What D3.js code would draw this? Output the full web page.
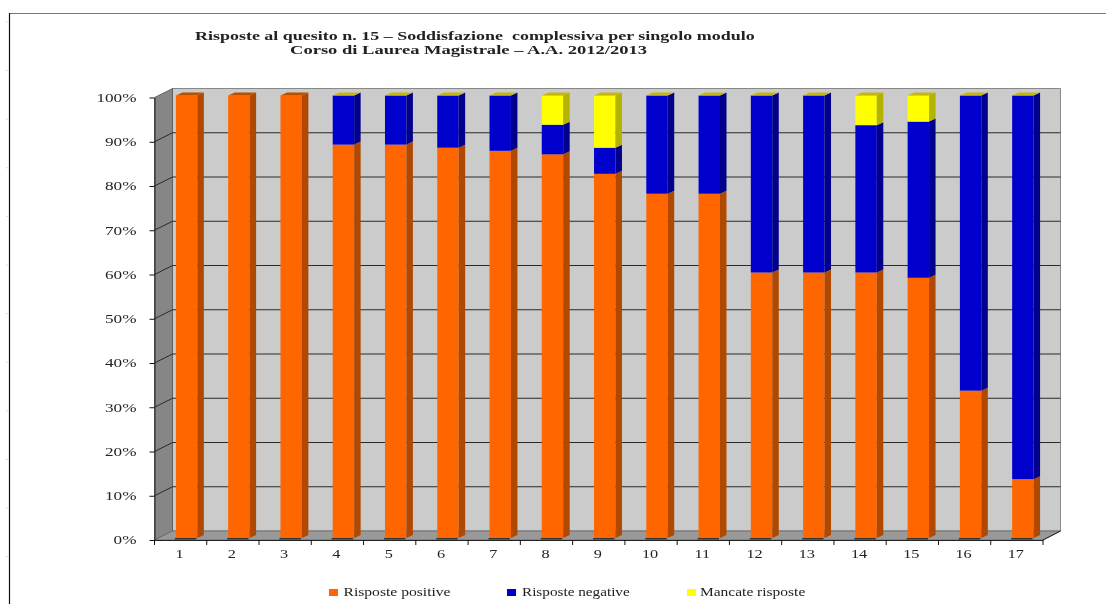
<!DOCTYPE html>
<html><head><meta charset="utf-8">
<script src="https://cdn.jsdelivr.net/npm/d3@7"></script>
<style>
html,body{margin:0;padding:0;background:#fff;overflow:hidden}
svg{display:block;filter:blur(0.5px)}
text{font-family:"Liberation Serif",serif;fill:#222}
</style></head><body>
<script>
const categories = ["1","2","3","4","5","6","7","8","9","10","11","12","13","14","15","16","17"];
const positive = [100,100,100,88.9,88.9,88.2,87.5,86.7,82.3,77.8,77.8,60,60,60,58.8,33.3,13.3];
const negative = [0,0,0,11.1,11.1,11.8,12.5,6.7,5.9,22.2,22.2,40,40,33.3,35.3,66.7,86.7];
const missing  = [0,0,0,0,0,0,0,6.6,11.8,0,0,0,0,6.7,5.9,0,0];
const seriesNames = ["Risposte positive","Risposte negative","Mancate risposte"];
const percentTicks = [0,10,20,30,40,50,60,70,80,90,100];
const titleLines = ["Risposte al quesito n. 15 – Soddisfazione  complessiva per singolo modulo","Corso di Laurea Magistrale – A.A. 2012/2013"];

const W=1106,H=604;
const svg=d3.select("body").append("svg").attr("width",W).attr("height",H);
const x=d3.scaleBand().domain(categories).range([154.5,1043]).paddingInner(0.59).paddingOuter(0.295);
const y=d3.scaleLinear().domain([0,100]).range([540,97.5]);
const dx=18,dy=-9;
const barShiftX=6,barShiftY=-2,bd=6.5,bdY=3;
const poly=p=>p.map(d=>d.join(",")).join(" ");
const X0=x.range()[0],X1=x.range()[1];
// widen text horizontally, as in the stretched scan
const stretch=(sel,f)=>sel.each(function(d,i){
  const len=this.getComputedTextLength();
  const k=typeof f==="function"?f(d,i):f;
  d3.select(this).attr("textLength",len*k).attr("lengthAdjust","spacingAndGlyphs");
});

// frame of the scanned page
svg.append("path").attr("d","M9.5,13.5H1106").attr("fill","none").attr("stroke","#777").attr("stroke-width",1);
svg.append("path").attr("d","M9.5,604V13").attr("fill","none").attr("stroke","#111").attr("stroke-width",1.2);
svg.append("g").selectAll("line").data(d3.range(12)).join("line")
  .attr("x1",6).attr("x2",9).attr("y1",d=>22+d*48.6).attr("y2",d=>22+d*48.6).attr("stroke","#ddd");

// title
const titleStart=[195,290], titleStretch=[1.382,1.426];
svg.append("g").selectAll("text").data(titleLines).join("text")
  .attr("x",(d,i)=>titleStart[i]).attr("y",(d,i)=>40+i*14)
  .attr("font-weight","bold").attr("font-size",13).style("white-space","pre").text(d=>d)
  .call(stretch,(d,i)=>titleStretch[i]);

// walls
svg.append("polygon").attr("points",poly([[X0+dx,y(100)+dy],[X1+dx-.5,y(100)+dy],[X1+dx-.5,y(0)+dy],[X0+dx,y(0)+dy]]))
  .attr("fill","#cbcbcb").attr("stroke","#888");
svg.append("polygon").attr("points",poly([[X0,y(100)],[X0+dx,y(100)+dy],[X0+dx,y(0)+dy],[X0,y(0)]]))
  .attr("fill","#868686").attr("stroke","#555").attr("stroke-width",.8);
svg.append("polygon").attr("points",poly([[X0,y(0)],[X0+dx,y(0)+dy],[X1+dx-.5,y(0)+dy],[X1,y(0)]]))
  .attr("fill","#999").attr("stroke","#666").attr("stroke-width",.8);

// gridlines
svg.append("g").selectAll("path").data(percentTicks.filter(d=>d>0&&d<100)).join("path")
  .attr("d",d=>`M${X0},${y(d)}L${X0+dx},${y(d)+dy}H${X1+dx-.5}`)
  .attr("fill","none").attr("stroke","#2a2a2a").attr("stroke-width",1);

// axes
const yAxis=d3.axisLeft(y).tickValues(percentTicks).tickFormat(d=>d+"%").tickSize(5).tickSizeOuter(0);
const gy=svg.append("g").attr("transform",`translate(${X0},0)`).call(yAxis);
gy.select(".domain").attr("stroke","#222");
gy.selectAll(".tick line").attr("stroke","#111");
gy.selectAll("text").attr("x",-18).attr("font-size",13).attr("fill","#333").attr("dy","0.3em").style("font-family",'"Liberation Serif",serif').call(stretch,1.32);

const xAxis=d3.axisBottom(x).tickFormat(d=>d).tickSize(0).tickSizeOuter(0);
const gx=svg.append("g").attr("transform",`translate(0,${y(0)})`).call(xAxis);
gx.select(".domain").attr("stroke","#222");
gx.selectAll("text").attr("y",14).attr("x",-1).attr("font-size",13).attr("fill","#333").attr("dy","0.3em").style("font-family",'"Liberation Serif",serif').call(stretch,1.25);
const step=x.step();
gx.append("g").selectAll("line").data(d3.range(categories.length+1)).join("line")
  .attr("x1",d=>X0+d*step).attr("x2",d=>X0+d*step).attr("y1",0).attr("y2",5).attr("stroke","#111");
svg.append("path").attr("d",`M${X1},${y(0)}L${X1+dx-.5},${y(0)+dy}`).attr("stroke","#222").attr("fill","none");

// bars
const colours=[
  {front:"#ff6600",side:"#b04800",top:"#b85000"},
  {front:"#0000cc",side:"#00008c",top:"#00008c"},
  {front:"#ffff00",side:"#b3b300",top:"#c4b810"}];
const seriesValues=[positive,negative,missing];
categories.forEach((c,i)=>{
  const g=svg.append("g");
  const bx=x(c)+barShiftX, bw=x.bandwidth();
  // contact shadow at the foot of the bar
  g.append("rect").attr("x",bx-1).attr("y",y(0)+barShiftY).attr("width",bw).attr("height",1.5).attr("fill","#333");
  let acc=0;
  seriesValues.forEach((vals,s)=>{
    const v=vals[i];
    if(v<=0) return;
    const yb=y(acc)+barShiftY, yt=y(acc+v)+barShiftY;
    g.append("rect").attr("x",bx).attr("y",yt).attr("width",bw).attr("height",yb-yt).attr("fill",colours[s].front);
    g.append("polygon").attr("points",poly([[bx+bw,yt],[bx+bw+bd,yt-bdY],[bx+bw+bd,yb-bdY],[bx+bw,yb]])).attr("fill",colours[s].side);
    acc+=v;
  });
  const topCol=negative[i]>0?colours[2]:colours[0];
  const yt=y(100)+barShiftY;
  g.append("polygon").attr("points",poly([[bx,yt],[bx+bd,yt-bdY],[bx+bw+bd,yt-bdY],[bx+bw,yt]])).attr("fill",topCol.top);
});

// legend
const legendX=[329,507,687], legendTextX=[343.5,522,700], legendStretch=[1.2,1.17,1.19];
const leg=svg.append("g").selectAll("g").data(seriesNames).join("g");
leg.append("rect").attr("x",(d,i)=>legendX[i]).attr("y",589).attr("width",9).attr("height",7).attr("fill",(d,i)=>colours[i].front);
leg.append("text").attr("x",(d,i)=>legendTextX[i]).attr("y",596).attr("font-size",13).text(d=>d).call(stretch,(d,i)=>legendStretch[i]);
</script>
</body></html>
